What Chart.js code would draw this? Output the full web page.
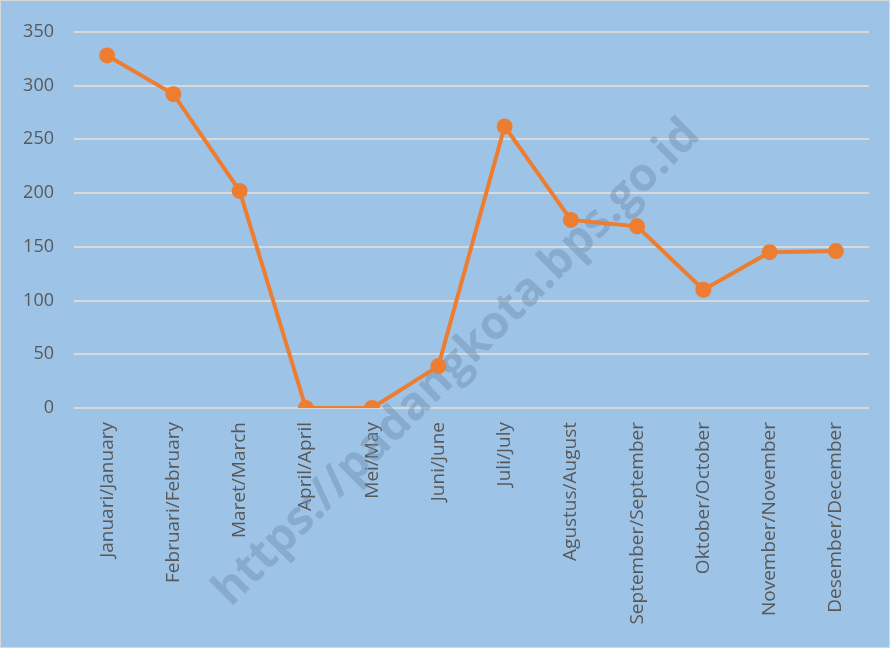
<!DOCTYPE html>
<html>
<head>
<meta charset="utf-8">
<script src="https://cdn.jsdelivr.net/npm/chart.js@4/dist/chart.umd.min.js"></script>
<style>
    html, body { margin: 0; padding: 0; background: #ffffff; }
    #wrap {
        width: 888px; height: 646px;
        border: 1px solid #d9d9d9;
        background: #9dc3e6;
    }
</style>
</head>
<body>
<div id="wrap"><canvas id="chart" width="888" height="646"></canvas></div>
<script>
// Month labels (Indonesian/English) and monthly values
const months = [
    'Januari/January', 'Februari/February', 'Maret/March', 'April/April',
    'Mei/May', 'Juni/June', 'Juli/July', 'Agustus/August',
    'September/September', 'Oktober/October', 'November/November', 'Desember/December'
];
const values = [328, 292, 202, 0, 0, 39, 262, 175, 169, 110, 145, 146];
const yTicks = [0, 50, 100, 150, 200, 250, 300, 350];

// Diagonal source watermark drawn behind the line
const watermark = {
    id: 'watermark',
    beforeDatasetsDraw(chart) {
        const ctx = chart.ctx;
        ctx.save();
        ctx.translate(456, 362);
        ctx.rotate(-Math.PI / 4);
        ctx.font = 'bold 46px "Open Sans", sans-serif';
        ctx.fillStyle = 'rgba(110, 140, 175, 0.45)';
        ctx.textAlign = 'center';
        ctx.textBaseline = 'middle';
        ctx.fillText('https://padangkota.bps.go.id', 0, 0);
        ctx.restore();
    }
};

const ctx = document.getElementById('chart').getContext('2d');
new Chart(ctx, {
    type: 'line',
    data: {
        labels: months,
        datasets: [{
            data: values,
            borderColor: '#ed7d31',
            backgroundColor: '#ed7d31',
            borderWidth: 4,
            pointRadius: 6,
            pointHoverRadius: 6,
            tension: 0
        }]
    },
    options: {
        responsive: false,
        animation: false,
        layout: { padding: { top: 30, right: 20, left: 0, bottom: 0 } },
        plugins: {
            legend: { display: false },
            tooltip: { enabled: false }
        },
        scales: {
            x: {
                offset: true,
                grid: { display: false },
                border: { display: false },
                ticks: {
                    color: '#595959',
                    font: { family: '"Open Sans", sans-serif', size: 19 },
                    maxRotation: 90,
                    minRotation: 90,
                    padding: 6
                },
                afterFit(scale) { scale.height = 239; }
            },
            y: {
                min: 0,
                max: 350,
                afterBuildTicks(scale) {
                    scale.ticks = yTicks.map(v => ({ value: v }));
                },
                grid: { color: '#d9d9d9', lineWidth: 2, drawTicks: false },
                border: { display: false },
                ticks: {
                    color: '#595959',
                    font: { family: '"Open Sans", sans-serif', size: 18 },
                    padding: 20
                },
                afterFit(scale) { scale.width = 73; }
            }
        }
    },
    plugins: [watermark]
});
</script>
</body>
</html>
